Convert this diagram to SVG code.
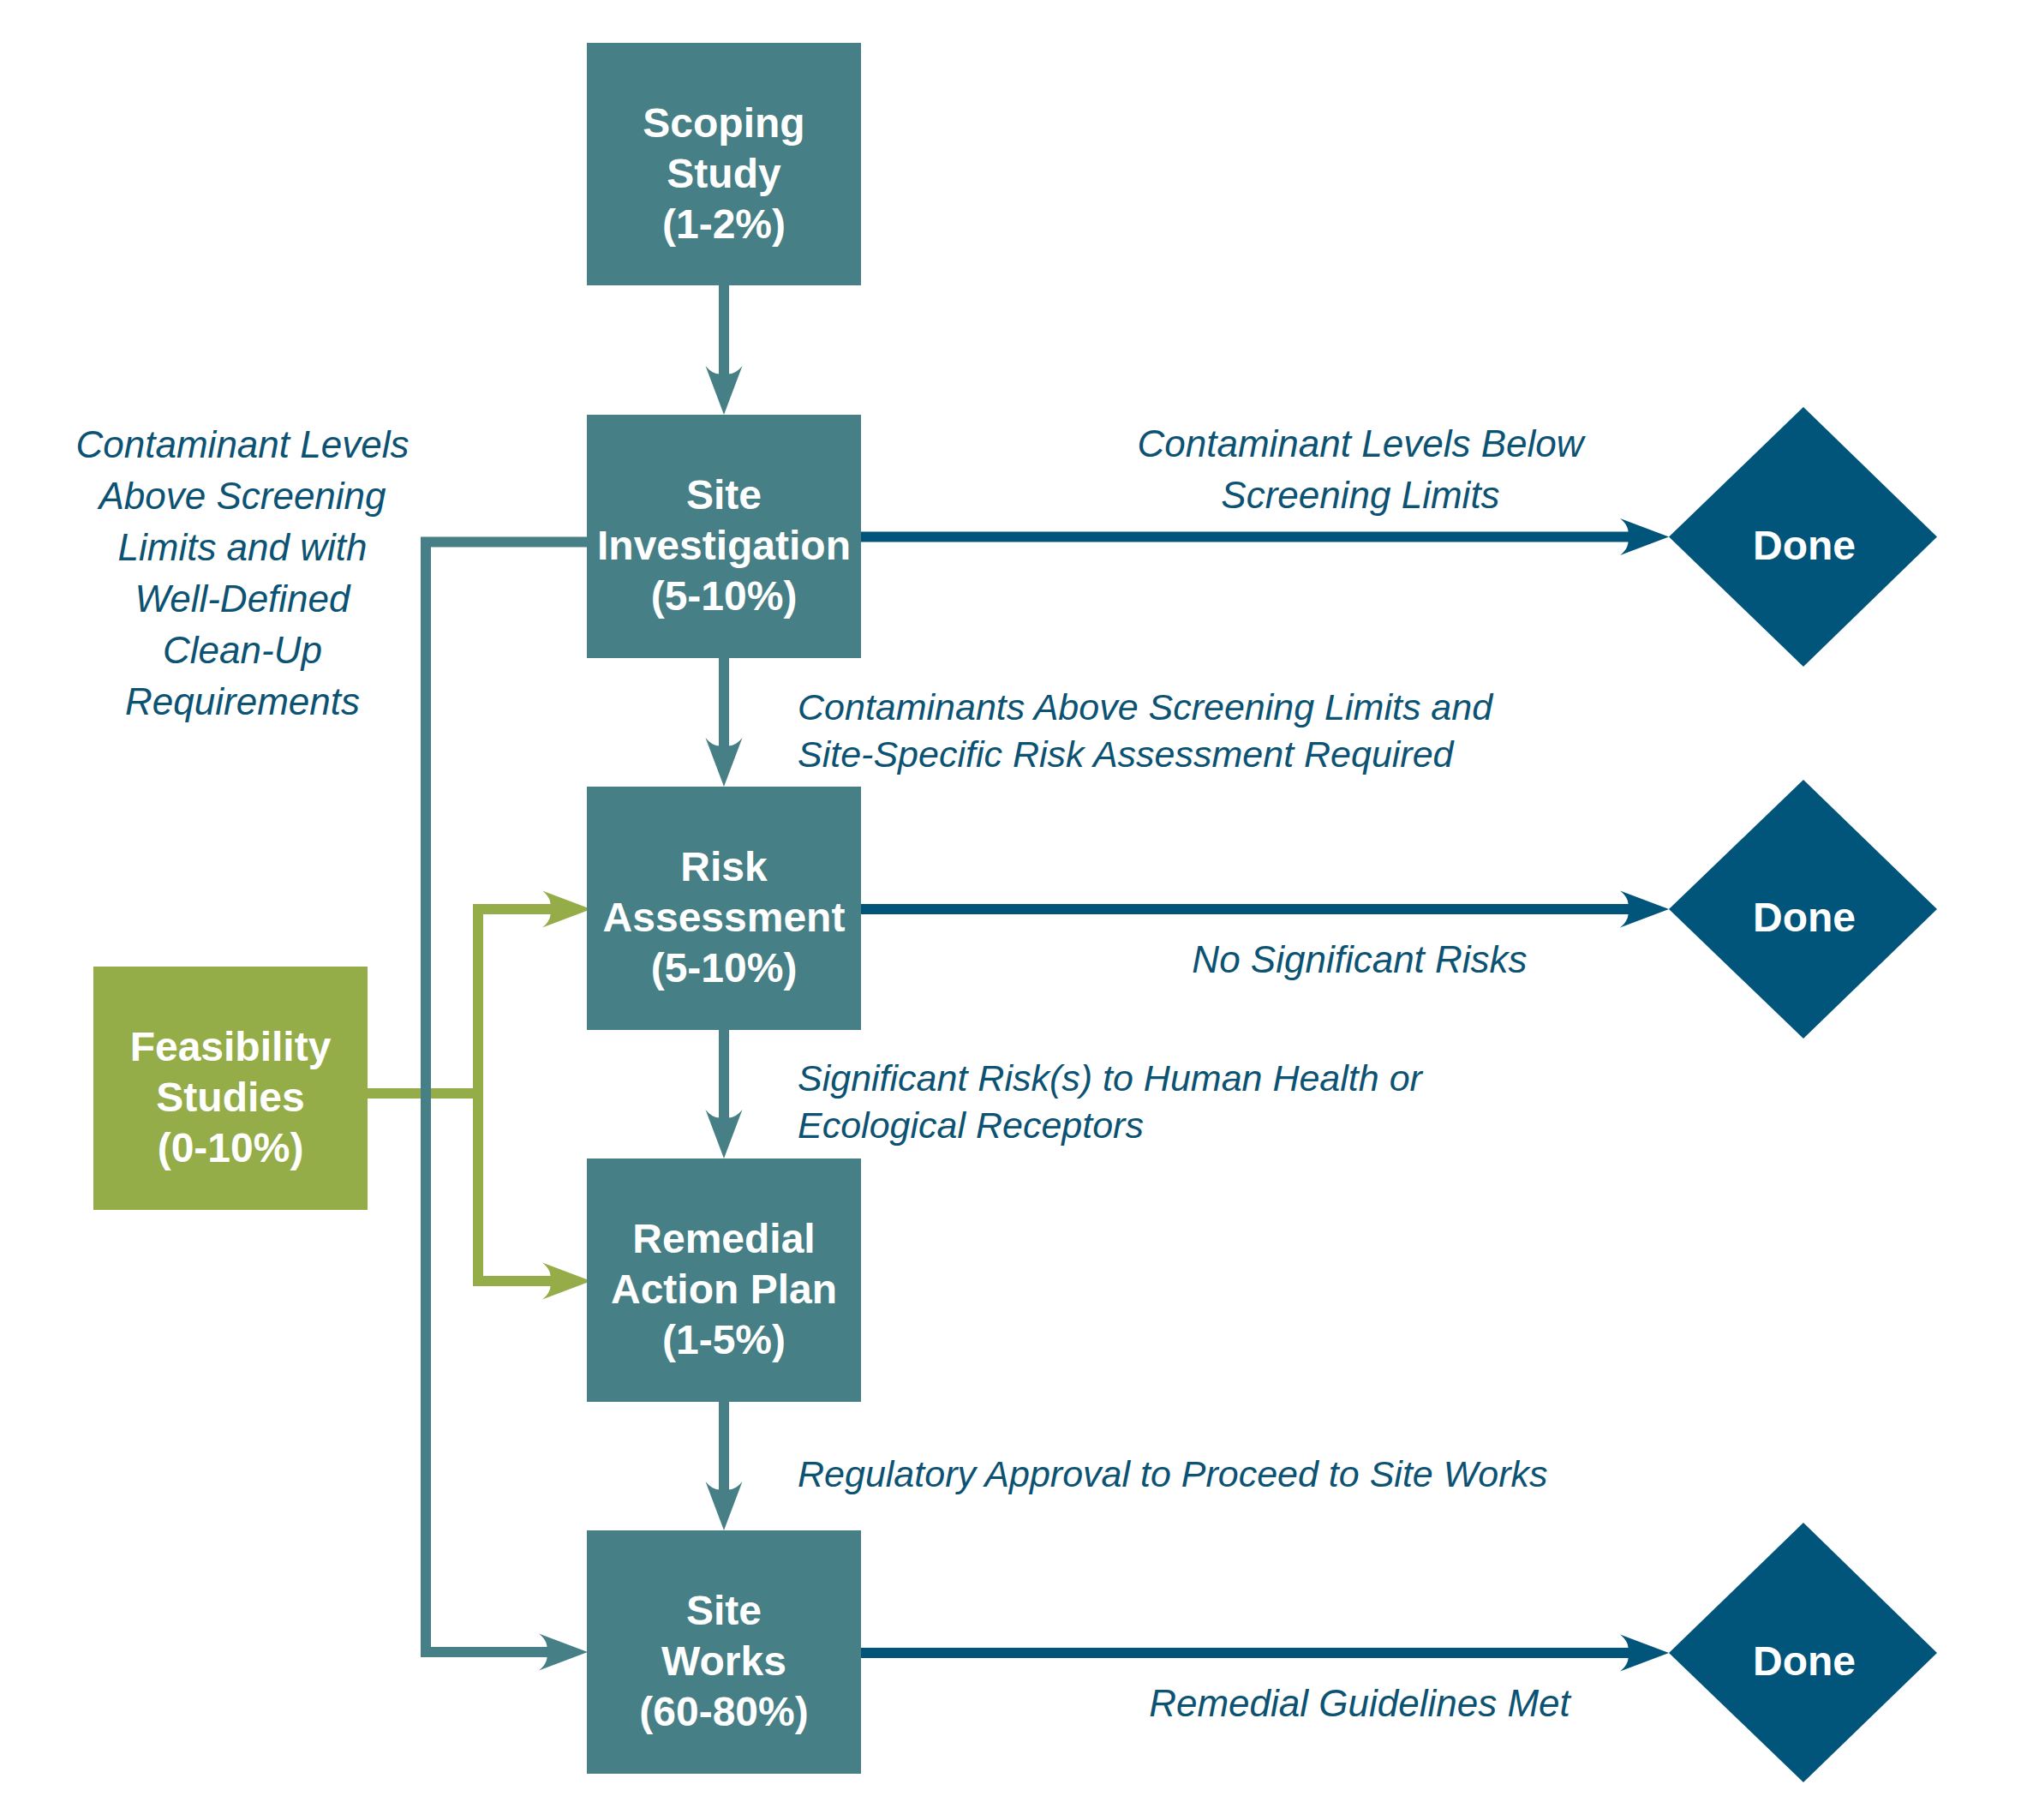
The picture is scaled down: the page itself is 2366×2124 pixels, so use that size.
<svg xmlns="http://www.w3.org/2000/svg" xmlns:xlink="http://www.w3.org/1999/xlink" width="2366" height="2124" viewBox="0 0 2366 2124">
<style>
.box{fill:#467f85}
.feas{fill:#95ad49}
.done{fill:#02557a}
.nt{font-family:"Liberation Sans",Arial,sans-serif;font-weight:bold;font-size:48px;fill:#ffffff;text-anchor:middle}
.lbl{font-family:"Liberation Sans",Arial,sans-serif;font-style:italic;font-size:44px;fill:#0b5273}
.sm{font-size:43px}
.mid{text-anchor:middle}
.teal{fill:none;stroke:#467f85;stroke-width:12;stroke-linejoin:miter}
.green{fill:none;stroke:#95ad49;stroke-width:12;stroke-linejoin:miter}
.dark{fill:none;stroke:#02557a;stroke-width:12}
</style>
<defs>
<path id="head" d="M0 0 L-57 -21.5 Q-45 -12 -48 0 Q-45 12 -57 21.5 Z"/>
</defs>
<rect width="2366" height="2124" fill="#ffffff"/>

<g id="connectors">
  <path class="green" d="M429 1276 H558"/>
  <path class="green" d="M644 1061 H558 V1495 H644"/>
  <use xlink:href="#head" fill="#95ad49" transform="translate(690,1061)"/>
  <use xlink:href="#head" fill="#95ad49" transform="translate(690,1495)"/>
  <path class="teal" d="M686 632.5 H497 V1928 H640"/>
  <use xlink:href="#head" fill="#467f85" transform="translate(686,1928)"/>
  <path class="teal" d="M845 333 V440"/>
  <use xlink:href="#head" fill="#467f85" transform="translate(845,484) rotate(90)"/>
  <path class="teal" d="M845 767 V874"/>
  <use xlink:href="#head" fill="#467f85" transform="translate(845,918) rotate(90)"/>
  <path class="teal" d="M845 1201 V1308"/>
  <use xlink:href="#head" fill="#467f85" transform="translate(845,1352) rotate(90)"/>
  <path class="teal" d="M845 1635 V1742"/>
  <use xlink:href="#head" fill="#467f85" transform="translate(845,1786) rotate(90)"/>
  <path class="dark" d="M1005 626.5 H1902"/>
  <use xlink:href="#head" fill="#02557a" transform="translate(1948,626.5)"/>
  <path class="dark" d="M1005 1061 H1902"/>
  <use xlink:href="#head" fill="#02557a" transform="translate(1948,1061)"/>
  <path class="dark" d="M1005 1929 H1902"/>
  <use xlink:href="#head" fill="#02557a" transform="translate(1948,1929)"/>
</g>

<g id="scoping">
  <rect class="box" x="685" y="50" width="320" height="283"/>
  <text class="nt" x="845" y="160">Scoping</text>
  <text class="nt" x="845" y="219">Study</text>
  <text class="nt" x="845" y="278">(1-2%)</text>
</g>
<g id="site-investigation">
  <rect class="box" x="685" y="484" width="320" height="284"/>
  <text class="nt" x="845" y="594">Site</text>
  <text class="nt" x="845" y="653">Investigation</text>
  <text class="nt" x="845" y="712">(5-10%)</text>
</g>
<g id="risk-assessment">
  <rect class="box" x="685" y="918" width="320" height="284"/>
  <text class="nt" x="845" y="1028">Risk</text>
  <text class="nt" x="845" y="1087">Assessment</text>
  <text class="nt" x="845" y="1146">(5-10%)</text>
</g>
<g id="remedial-action-plan">
  <rect class="box" x="685" y="1352" width="320" height="284"/>
  <text class="nt" x="845" y="1462">Remedial</text>
  <text class="nt" x="845" y="1521">Action Plan</text>
  <text class="nt" x="845" y="1580">(1-5%)</text>
</g>
<g id="site-works">
  <rect class="box" x="685" y="1786" width="320" height="284"/>
  <text class="nt" x="845" y="1896">Site</text>
  <text class="nt" x="845" y="1955">Works</text>
  <text class="nt" x="845" y="2014">(60-80%)</text>
</g>
<g id="feasibility">
  <rect class="feas" x="109" y="1128" width="320" height="284"/>
  <text class="nt" x="269" y="1238">Feasibility</text>
  <text class="nt" x="269" y="1297">Studies</text>
  <text class="nt" x="269" y="1356">(0-10%)</text>
</g>
<g id="done-1">
  <polygon class="done" points="2105,475 2261,626.5 2105,778 1948,626.5"/>
  <text class="nt" x="2106" y="653">Done</text>
</g>
<g id="done-2">
  <polygon class="done" points="2105,910 2261,1061 2105,1212 1948,1061"/>
  <text class="nt" x="2106" y="1087">Done</text>
</g>
<g id="done-3">
  <polygon class="done" points="2105,1777 2261,1929 2105,2080 1948,1929"/>
  <text class="nt" x="2106" y="1955">Done</text>
</g>

<g id="labels">
  <text class="lbl mid" x="283" y="534">Contaminant Levels</text>
  <text class="lbl mid" x="283" y="594">Above Screening</text>
  <text class="lbl mid" x="283" y="654">Limits and with</text>
  <text class="lbl mid" x="283" y="714">Well-Defined</text>
  <text class="lbl mid" x="283" y="774">Clean-Up</text>
  <text class="lbl mid" x="283" y="834">Requirements</text>

  <text class="lbl mid" x="1588" y="533">Contaminant Levels Below</text>
  <text class="lbl mid" x="1588" y="593">Screening Limits</text>

  <text class="lbl sm" x="931" y="840">Contaminants Above Screening Limits and</text>
  <text class="lbl sm" x="931" y="895">Site-Specific Risk Assessment Required</text>

  <text class="lbl mid" x="1587" y="1135">No Significant Risks</text>

  <text class="lbl sm" x="931" y="1273">Significant Risk(s) to Human Health or</text>
  <text class="lbl sm" x="931" y="1328">Ecological Receptors</text>

  <text class="lbl sm" x="931" y="1735">Regulatory Approval to Proceed to Site Works</text>

  <text class="lbl mid" x="1587" y="2003">Remedial Guidelines Met</text>
</g>
</svg>
